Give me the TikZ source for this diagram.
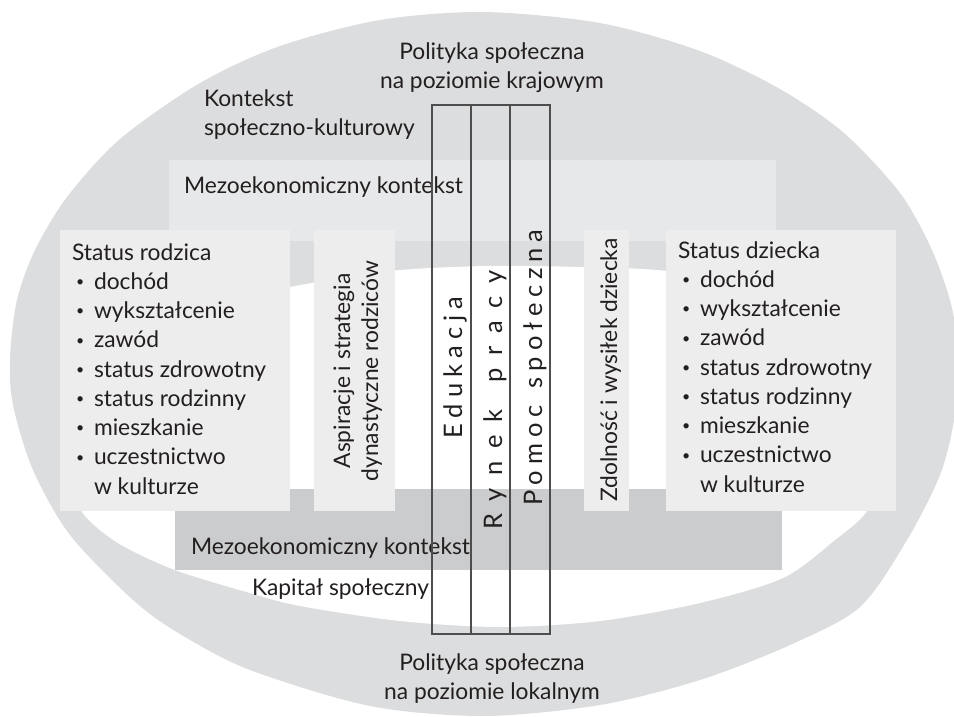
\documentclass[tikz,border=0pt]{standalone}
\usepackage{fontspec}
\setmainfont{Lato}
\newfontfamily\colfam[WordSpace=1.4]{Lato}
\definecolor{ringgray}{HTML}{DCDDDE}
\definecolor{mezolight}{HTML}{E7E8E9}
\definecolor{boxgray}{HTML}{EDEDED}
\definecolor{mezodark}{HTML}{CBCCCD}
\definecolor{inkc}{HTML}{231F20}
\definecolor{linec}{HTML}{4D4D4D}
\newcommand{\bul}{\makebox[22pt][l]{\hspace*{4pt}\raisebox{2.6pt}{\scalebox{0.62}{\textbullet}}}}
\newcommand{\indt}{\hspace*{22pt}}
\newcommand{\mainfs}{\fontsize{22.8}{29.25}\selectfont}
\newcommand{\colfs}[1]{\colfam\fontsize{25.5}{30}\selectfont\addfontfeature{LetterSpace=#1}}
\begin{document}
\begin{tikzpicture}[x=1pt,y=-1pt,
  every node/.style={inner sep=0pt, outer sep=0pt, text=inkc, font=\mainfs},
  panel/.style={fill=#1, draw=none, anchor=north west},
  colbox/.style={draw=linec, line width=1.1pt, fill=none, minimum height=529pt, minimum width=#1},
  vtext/.style={rotate=90, anchor=base},
]
\useasboundingbox (0,0) rectangle (954,716);
% outer ring
\fill[ringgray] plot[smooth cycle] coordinates {
 (484,12) (600,23) (700,51) (780,89) (844,133) (900,193) (932,250) (952,308)
 (958,364) (954,420) (940,475) (907,540) (860,607) (790,645) (700,680)
 (600,705) (484,716) (370,706) (250,670) (180,634) (133,600) (70,535)
 (33,470) (13,405) (10,358) (17,300) (35,250) (67,197) (120,139) (200,83)
 (280,46) (380,20)};
% inner white area
\fill[white] plot[smooth cycle] coordinates {
 (486,266) (580,267) (667,271) (760,288) (835,330) (878,400) (885,465)
 (867,511) (835,540) (783,578) (700,603) (600,621) (500,627) (400,621)
 (300,606) (250,593) (175,570) (118,543) (82,512) (68,470) (75,410)
 (120,350) (200,308) (290,287) (390,271)};
% panels
\node[panel=mezolight, minimum width=607pt, minimum height=81pt] (mezoTop) at (169,160) {};
\node[panel=mezodark, minimum width=607pt, minimum height=81pt] (mezoBot) at (175,489) {};
\node[panel=boxgray, minimum width=230pt, minimum height=281pt] (boxRodzic) at (60,230) {};
\node[panel=boxgray, minimum width=81pt, minimum height=281pt] (boxAspir) at (314,230) {};
\node[panel=boxgray, minimum width=45pt, minimum height=281pt] (boxZdol) at (584,230) {};
\node[panel=boxgray, minimum width=230pt, minimum height=281pt] (boxDziecko) at (666,230) {};
% texts
\node[anchor=base] (polTop) at (492,59) {\begin{tabular}[t]{@{}c@{}}Polityka społeczna\\na poziomie krajowym\end{tabular}};
\node[anchor=base west] (kontekst) at (204,106) {\begin{tabular}[t]{@{}l@{}}Kontekst\\ społeczno-kulturowy\end{tabular}};
\node[anchor=base west] (mezoTopText) at (184,193) {Mezoekonomiczny kontekst};
\node[anchor=base west] (mezoBotText) at (191,554) {Mezoekonomiczny kontekst};
\node[anchor=base west] (kapital) at (252,595) {Kapitał społeczny};
\node[anchor=base] (polBot) at (492,670) {\begin{tabular}[t]{@{}c@{}}Polityka społeczna\\na poziomie lokalnym\end{tabular}};
\node[anchor=base west] (rodzicText) at (72,260) {\begin{tabular}[t]{@{}l@{}}Status rodzica\\
 \bul dochód\\ \bul wykształcenie\\ \bul zawód\\ \bul status zdrowotny\\
 \bul status rodzinny\\ \bul mieszkanie\\ \bul uczestnictwo\\ \indt w kulturze\end{tabular}};
\node[anchor=base west] (dzieckoText) at (678,258) {\begin{tabular}[t]{@{}l@{}}Status dziecka\\
 \bul dochód\\ \bul wykształcenie\\ \bul zawód\\ \bul status zdrowotny\\
 \bul status rodzinny\\ \bul mieszkanie\\ \bul uczestnictwo\\ \indt w kulturze\end{tabular}};
\node[vtext] (aspirText) at (350,371) {\begin{tabular}[t]{@{}c@{}}Aspiracje i strategia\\[-1.25pt]dynastyczne rodziców\end{tabular}};
\node[vtext] (zdolText) at (617,370) {Zdolność i wysiłek dziecka};
\node[vtext, font=\colfs{24}] (eduText) at (462,367.5) {Edukacja};
\node[vtext, font=\colfs{50}] (rynText) at (502,400) {Rynek pracy};
\node[vtext, font=\colfs{23}] (pomText) at (542,367.5) {Pomoc społeczna};
% policy columns
\node[colbox=39pt] (colEdu) at (451.5,369.5) {};
\node[colbox=39pt] (colRyn) at (490.5,369.5) {};
\node[colbox=40pt] (colPom) at (530,369.5) {};
\end{tikzpicture}
\end{document}
